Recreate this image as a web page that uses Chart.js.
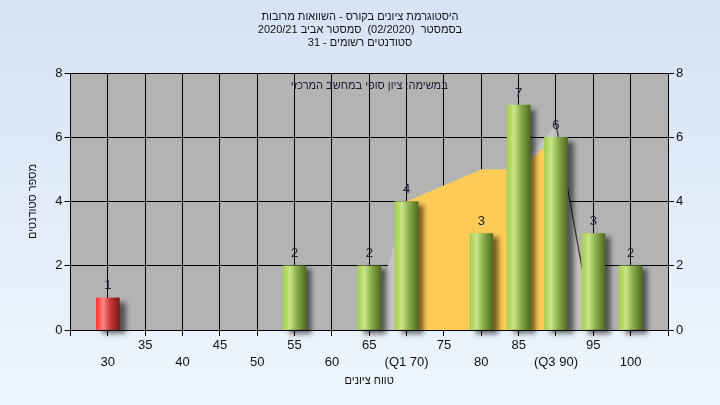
<!DOCTYPE html>
<html>
<head>
<meta charset="utf-8">
<script src="https://cdn.jsdelivr.net/npm/chart.js@4.4.1/dist/chart.umd.min.js"></script>
<style>
  html, body { margin: 0; padding: 0; }
  body { width: 720px; height: 405px; overflow: hidden; background: linear-gradient(#d5e3f4, #eef6fd); }
  #wrap { position: relative; width: 720px; height: 405px; }
  canvas { direction: rtl; }
</style>
</head>
<body>
<div id="wrap"><canvas id="histChart" dir="rtl"></canvas></div>
<script>
/* grade histogram - data */
const GRADES = [30, 55, 65, 70, 80, 85, 90, 95, 100];
const COUNTS = [1, 2, 2, 4, 3, 7, 6, 3, 2];
const IQR_X = [70, 80, 85, 90];          // yellow band (Q1..Q3)
const IQR_Y = [4, 5, 5, 6];
const SPREAD_X = [65, 70, 80, 85, 90, 95]; // light grey band
const SPREAD_Y = [0, 4, 5, 5, 6.4, 0];
const X_SPECIAL = { 70: '(Q1 70)', 90: '(Q3 90)' };
const PASS_GRADE = 55;

const TITLE_LINES = [
  'היסטוגרמת ציונים בקורס - השוואות מרובות',
  'בסמסטר  (02/2020)  סמסטר אביב 2020/21',
  'סטודנטים רשומים - 31'
];
const NOTE = 'במשימה: ציון סופי במחשב המרכזי';
const X_TITLE = 'טווח ציונים';
const Y_TITLE = 'מספר סטודנטים';

const FONT = '"Liberation Sans Narrow", "Liberation Sans", Arial, sans-serif';
const TITLE_FONT = '"Liberation Sans", Arial, sans-serif';
const BAR_W = 23;

function barFill(c) {
  const chart = c.chart;
  const isFail = c.raw && c.raw.x < PASS_GRADE;
  const fallback = isFail ? '#e03030' : '#9cc850';
  const xs = chart.scales.x;
  if (!xs || !c.raw) return fallback;
  const px = xs.getPixelForValue(c.raw.x);
  if (!isFinite(px)) return fallback;
  const g = chart.ctx.createLinearGradient(px - BAR_W / 2, 0, px + BAR_W / 2, 0);
  if (isFail) {
    g.addColorStop(0, '#ff3434');
    g.addColorStop(0.3, '#ff8585');
    g.addColorStop(0.6, '#c83a3a');
    g.addColorStop(1, '#7e1414');
  } else {
    g.addColorStop(0, '#a4d04e');
    g.addColorStop(0.3, '#c8e58a');
    g.addColorStop(0.6, '#8aae48');
    g.addColorStop(1, '#4f6b22');
  }
  return g;
}

const plotBg = {
  id: 'plotBg',
  beforeDraw(chart) {
    const a = chart.chartArea, ctx = chart.ctx;
    ctx.save();
    ctx.fillStyle = '#b3b3b3';
    ctx.fillRect(a.left, a.top, a.right - a.left, a.bottom - a.top);
    ctx.restore();
  }
};

const barShadow = {
  id: 'barShadow',
  beforeDatasetDraw(chart, args) {
    if (args.meta.type !== 'bar') return;
    const ctx = chart.ctx;
    ctx.save();
    ctx.shadowColor = 'rgba(0,0,0,0.55)';
    ctx.shadowBlur = 5;
    ctx.shadowOffsetX = 6;
    ctx.shadowOffsetY = 4;
  },
  afterDatasetDraw(chart, args) {
    if (args.meta.type !== 'bar') return;
    chart.ctx.restore();
  }
};

const valueLabels = {
  id: 'valueLabels',
  afterDatasetsDraw(chart) {
    const ctx = chart.ctx, a = chart.chartArea;
    const meta = chart.getDatasetMeta(0);
    ctx.save();
    ctx.font = '13px ' + FONT;
    ctx.fillStyle = '#1c1c30';
    ctx.textAlign = 'center';
    ctx.textBaseline = 'middle';
    meta.data.forEach((el, i) => ctx.fillText(String(COUNTS[i]), el.x, el.y - 12));
    // note line at top of plot
    ctx.font = '11px ' + FONT;
    ctx.fillStyle = '#201830';
    ctx.fillText(NOTE, (a.left + a.right) / 2, a.top + 13);
    ctx.restore();
  }
};

const tickFont = { family: FONT, size: 13, lineHeight: 1.3 };

new Chart(document.getElementById('histChart'), {
  type: 'bar',
  data: {
    datasets: [
      {
        type: 'bar',
        data: GRADES.map((g, i) => ({ x: g, y: COUNTS[i] })),
        backgroundColor: barFill,
        borderWidth: 0,
        barThickness: BAR_W,
        clip: false,
        order: 0
      },
      {
        type: 'line',
        data: IQR_X.map((x, i) => ({ x, y: IQR_Y[i] })),
        fill: 'origin',
        backgroundColor: '#fecb57',
        borderColor: 'rgba(0,0,0,0)',
        borderWidth: 0,
        pointRadius: 0,
        tension: 0,
        order: 1
      },
      {
        type: 'line',
        data: SPREAD_X.map((x, i) => ({ x, y: SPREAD_Y[i] })),
        fill: 'origin',
        backgroundColor: '#c3c3c3',
        borderColor: 'rgba(0,0,0,0)',
        borderWidth: 1.2,
        segment: { borderColor: s => s.p0.parsed.x === 90 ? '#333333' : 'rgba(0,0,0,0)' },
        pointRadius: 0,
        tension: 0,
        order: 2
      }
    ]
  },
  options: {
    responsive: true, maintainAspectRatio: false,
    animation: false,
    layout: { padding: 0 },
    plugins: {
      legend: { display: false },
      tooltip: { enabled: false },
      title: {
        display: true,
        text: TITLE_LINES,
        color: '#141414',
        font: { family: TITLE_FONT, size: 11, weight: 'normal', lineHeight: 1.2 },
        padding: { top: 10, bottom: 23.4 }
      }
    },
    scales: {
      x: {
        type: 'linear', min: 25, max: 105, offset: false,
        afterFit: s => { s.height = 75; },
        grid: { offset: false, color: '#000', lineWidth: 1, tickLength: 6, tickColor: '#000' },
        border: { color: '#000' },
        ticks: {
          stepSize: 5, autoSkip: false, maxRotation: 0, minRotation: 0,
          color: '#111', font: tickFont, padding: 1,
          callback: v => {
            if (v < 30 || v > 100) return '';
            if (v % 10 === 5) return [String(v), ''];
            return ['', X_SPECIAL[v] || String(v)];
          }
        },
        title: { display: true, text: X_TITLE, color: '#111', font: { family: FONT, size: 11, lineHeight: 1.2 }, padding: { top: 0, bottom: 17 } }
      },
      y: {
        position: 'left', min: 0, max: 8,
        afterFit: s => { s.width = 70.5; },
        grid: { color: '#000', lineWidth: 1, tickLength: 6, tickColor: '#000' },
        border: { color: '#000' },
        ticks: { stepSize: 2, color: '#111', font: { family: FONT, size: 13 }, padding: 2 },
        title: { display: true, text: Y_TITLE, color: '#111', font: { family: FONT, size: 11, lineHeight: 1.2 }, padding: { top: 26, bottom: 0 } }
      },
      yRight: {
        type: 'linear', position: 'right', min: 0, max: 8,
        afterFit: s => { s.width = 52; },
        grid: { drawOnChartArea: false, color: '#000', tickLength: 6, tickColor: '#000' },
        border: { color: '#000' },
        ticks: { stepSize: 2, color: '#111', font: { family: FONT, size: 13 }, padding: 2 }
      }
    }
  },
  plugins: [plotBg, barShadow, valueLabels]
});
</script>
</body>
</html>
